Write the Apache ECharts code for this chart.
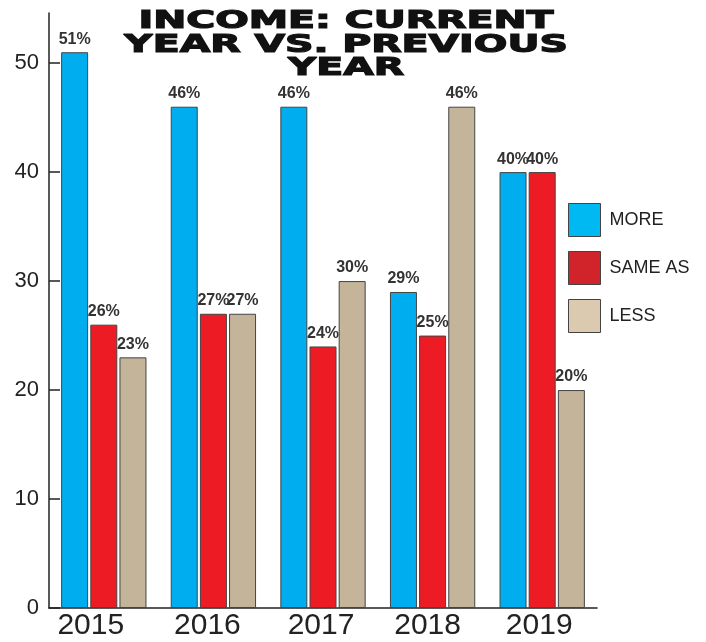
<!DOCTYPE html>
<html>
<head>
<meta charset="utf-8">
<script src="https://cdn.jsdelivr.net/npm/echarts@6/dist/echarts.min.js"></script>
<style>
  html, body { margin: 0; padding: 0; background: #fff; }
  #chart { width: 706px; height: 642px; }
</style>
</head>
<body>
<div id="chart"></div>
<script>
// 数据
var years = ['2015', '2016', '2017', '2018', '2019'];
var more = [51, 46, 46, 29, 40];
var sameAs = [26, 27, 24, 25, 40];
var less = [23, 27, 30, 46, 20];
var yTicks = [0, 10, 20, 30, 40, 50];
// 年份标签向左的偏移(像素)
var yearShift = [13, 6, 2, 5, 3];

function barSeries(name, data, color) {
  return {
    name: name,
    type: 'bar',
    data: data,
    barWidth: 27,
    barGap: '8%',
    itemStyle: { color: color, borderColor: '#444', borderWidth: 1 },
    label: {
      show: true,
      position: 'top',
      distance: 5,
      formatter: '{c}%',
      color: '#333',
      fontFamily: 'Liberation Sans',
      fontWeight: 'bold',
      fontSize: 16
    }
  };
}

var chart = echarts.init(document.getElementById('chart'));

chart.setOption({
  animation: false,
  backgroundColor: '#fff',
  graphic: [{
    type: 'text',
    x: 346,
    y: 10,
    scaleX: 1.58,
    style: {
      text: 'INCOME: CURRENT\nYEAR VS. PREVIOUS\nYEAR',
      textAlign: 'center',
      fontFamily: 'DejaVu Sans',
      fontWeight: 'bold',
      fontSize: 25,
      lineHeight: 23.5,
      fill: '#111',
      stroke: '#111',
      lineWidth: 1.2
    }
  }],
  legend: {
    orient: 'vertical',
    left: 568,
    top: 203,
    padding: 0,
    itemWidth: 32,
    itemHeight: 33,
    itemGap: 14,
    icon: 'rect',
    textStyle: { color: '#222', fontFamily: 'Liberation Sans', fontSize: 18, padding: [0, 0, 0, 4] },
    data: [
      { name: 'MORE', itemStyle: { color: '#00b9f2', borderColor: '#444', borderWidth: 1 } },
      { name: 'SAME AS', itemStyle: { color: '#d1232a', borderColor: '#444', borderWidth: 1 } },
      { name: 'LESS', itemStyle: { color: '#dbcab0', borderColor: '#444', borderWidth: 1 } }
    ]
  },
  grid: { left: 49, right: 109, top: 13, bottom: 34, containLabel: false },
  xAxis: {
    type: 'category',
    data: years.map(function (y, i) {
      return { value: y, textStyle: { padding: [0, yearShift[i] * 2, 0, 0] } };
    }),
    axisLine: { lineStyle: { color: '#222', width: 1.5 } },
    axisTick: { inside: true, length: 15, lineStyle: { color: '#222', width: 1.5 } },
    axisLabel: {
      color: '#222',
      fontFamily: 'Liberation Sans',
      fontSize: 30,
      margin: 3
    }
  },
  yAxis: {
    type: 'value',
    min: 0,
    max: 54.6,
    interval: 10,
    splitLine: { show: false },
    axisLine: { show: true, lineStyle: { color: '#222', width: 1.5 } },
    axisTick: { show: true, inside: true, length: 11, customValues: yTicks, lineStyle: { color: '#222', width: 1.5 } },
    axisLabel: {
      color: '#222',
      fontFamily: 'Liberation Sans',
      fontSize: 22,
      margin: 10,
      customValues: yTicks
    }
  },
  series: [
    barSeries('MORE', more, '#00aeef'),
    barSeries('SAME AS', sameAs, '#ed1c24'),
    barSeries('LESS', less, '#c4b49a')
  ]
});
</script>
</body>
</html>
